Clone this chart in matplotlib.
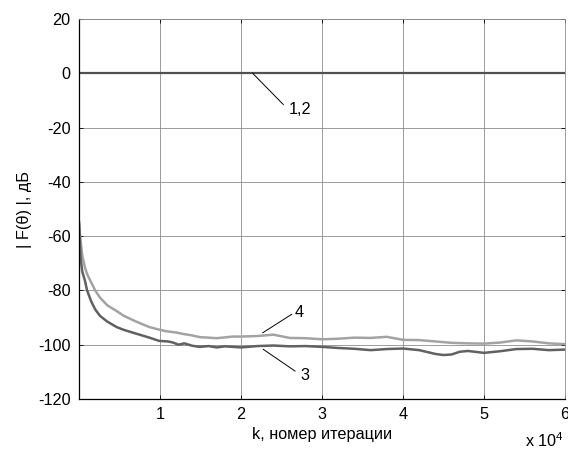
import numpy as np
import matplotlib
matplotlib.use('Agg')
import matplotlib.pyplot as plt

plt.rcParams['font.family'] = ['Liberation Sans', 'DejaVu Sans']
plt.rcParams['mathtext.fontset'] = 'custom'
plt.rcParams['mathtext.rm'] = 'Liberation Sans'
plt.rcParams['axes.unicode_minus'] = False

# curves 1,2 (flat at 0 dB)
k_12 = [0, 60000]
F_12 = [0, 0]

# curve 3 (dark)
k_3 = [0, 200, 400, 740, 1000, 1500, 2000, 2600, 3500, 4650, 5500, 6700, 7700,
       8700, 9900, 11000, 11600, 12300, 13000, 14000, 14900, 16000, 17000,
       18000, 19000, 20000, 22000, 24000, 26000, 28000, 30000, 32000, 34000,
       36000, 38000, 40000, 42000, 44000, 45000, 46000, 47000, 48000, 50000,
       52000, 54000, 56000, 58000, 60000]
F_3 = [-55, -68, -73, -76.5, -80, -84, -87, -89.4, -91.5, -93.5, -94.5, -95.6,
       -96.5, -97.4, -98.6, -98.8, -99.2, -100, -99.5, -100.4, -100.8, -100.5,
       -101, -100.6, -100.8, -101, -100.5, -100.3, -100.6, -100.5, -100.8,
       -101.2, -101.5, -102, -101.6, -101.4, -102, -103.4, -103.8, -103.6,
       -102.6, -102.3, -103, -102.4, -101.6, -101.5, -102, -101.8]

# curve 4 (light)
k_4 = [0, 200, 400, 740, 1000, 1500, 2000, 2600, 3500, 4650, 5500, 6700, 7700,
       8700, 9700, 10700, 12000, 12800, 14000, 14900, 16000, 17000, 18000,
       19000, 20000, 22000, 24000, 26000, 28000, 30000, 32000, 34000, 36000,
       38000, 40000, 42000, 44000, 46000, 48000, 50000, 52000, 54000, 56000,
       58000, 60000]
F_4 = [-55, -62, -67, -71.6, -74, -77, -80, -82.7, -85.5, -87.6, -89.3, -91,
       -92.3, -93.5, -94.3, -95, -95.5, -96, -96.6, -97.2, -97.4, -97.6, -97.3,
       -97, -97, -96.8, -96.3, -97.5, -97.6, -98, -97.8, -97.4, -97.5, -97.1,
       -98.2, -98.3, -98.8, -99.3, -99.5, -99.6, -99.2, -98.4, -98.8, -99.5,
       -99.8]

x_ticks = [10000, 20000, 30000, 40000, 50000, 60000]
x_tick_labels = ['1', '2', '3', '4', '5', '6']
y_ticks = [-120, -100, -80, -60, -40, -20, 0, 20]

fs = 11.7
fig = plt.figure(figsize=(5.68, 4.5), dpi=100)
ax = fig.add_axes([79/568, 51/450, 486/568, 380/450])

ax.grid(True, color='#8c8c8c', linewidth=0.6)
ax.set_axisbelow(True)

ax.plot(k_12, F_12, color='#505050', linewidth=1.6)
ax.plot(k_4, F_4, color='#a3a3a3', linewidth=1.8)
ax.plot(k_3, F_3, color='#616161', linewidth=1.8)

ax.set_xlim(0, 60000)
ax.set_ylim(-120, 20)
ax.set_xticks(x_ticks)
ax.set_xticklabels(x_tick_labels)
ax.set_yticks(y_ticks)
ax.tick_params(direction='in', length=3, labelsize=fs, top=True, right=True,
               width=0.6, pad=6)

for side in ['top', 'right']:
    ax.spines[side].set_color('#8c8c8c')
    ax.spines[side].set_linewidth(0.6)
for side in ['left', 'bottom']:
    ax.spines[side].set_linewidth(0.9)

ax.set_xlabel('k, номер итерации', fontsize=fs, labelpad=3)
ax.set_ylabel('| F(θ) |, дБ', fontsize=fs, labelpad=4)

# annotations
ax.plot([21440, 25220], [0, -11.5], color='black', linewidth=0.7)
ax.text(27300, -13.2, '1,2', fontsize=fs, ha='center', va='center')
ax.plot([22680, 26260], [-95.6, -88.8], color='black', linewidth=0.7)
ax.text(27160, -88.3, '4', fontsize=fs, ha='center', va='center')
ax.plot([22750, 26670], [-101.7, -109.7], color='black', linewidth=0.7)
ax.text(27900, -111.5, '3', fontsize=fs, ha='center', va='center')

fig.text(525/568, 3/450, r'x 10$^{4}$', fontsize=fs, ha='left', va='baseline')

fig.savefig('out.png', dpi=100)
